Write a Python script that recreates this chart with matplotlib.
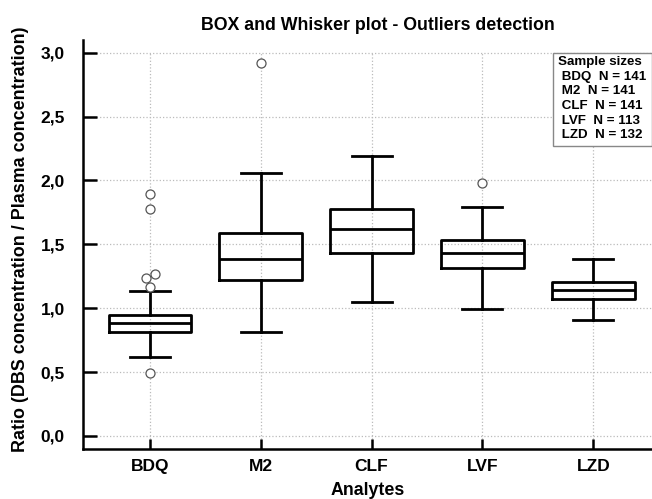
import matplotlib
matplotlib.use("Agg")
import matplotlib.pyplot as plt
from matplotlib.patches import Rectangle

plt.rcParams['font.family'] = ['Liberation Sans', 'DejaVu Sans']

categories = ["BDQ", "M2", "CLF", "LVF", "LZD"]
sample_sizes = [141, 141, 141, 113, 132]
whisker_low = [0.616, 0.816, 1.049, 0.996, 0.908]
q1 = [0.814, 1.221, 1.432, 1.317, 1.070]
median = [0.884, 1.387, 1.620, 1.430, 1.140]
q3 = [0.949, 1.586, 1.779, 1.534, 1.207]
whisker_high = [1.132, 2.060, 2.191, 1.789, 1.383]
outliers = [[1.894, 1.779, 1.234, 1.265, 1.163, 0.490], [2.916], [], [1.982], []]
outlier_jitter = [[0.0, 0.0, -0.04, 0.045, 0.0, 0.0], [0.0], [], [0.0], []]
yticks = [0.0, 0.5, 1.0, 1.5, 2.0, 2.5, 3.0]
ytick_labels = ["0,0", "0,5", "1,0", "1,5", "2,0", "2,5", "3,0"]

W, H = 652, 499
fig = plt.figure(figsize=(W / 100, H / 100), dpi=100)
ax = fig.add_axes([83 / W, 1 - 449 / H, 1 - 83 / W, (449 - 40) / H])

positions = list(range(1, len(categories) + 1))
stats = []
for i in range(len(categories)):
    stats.append(dict(whislo=whisker_low[i], q1=q1[i], med=median[i], q3=q3[i],
                      whishi=whisker_high[i], fliers=[], label=categories[i]))

lw = 2.0
ax.bxp(stats, positions=positions, widths=0.745, capwidths=0.36, showfliers=False,
       boxprops=dict(color='black', linewidth=lw),
       whiskerprops=dict(color='black', linewidth=lw),
       capprops=dict(color='black', linewidth=lw),
       medianprops=dict(color='black', linewidth=lw), zorder=3)

for i, vals in enumerate(outliers):
    if vals:
        xs = [positions[i] + j for j in outlier_jitter[i]]
        ax.plot(xs, vals, linestyle='none', marker='o', markersize=6.5,
                markerfacecolor='white', markeredgecolor='#555555',
                markeredgewidth=0.9, zorder=4)

ax.set_xlim(0.396, 5.53)
ax.set_ylim(-0.102, 3.099)
ax.set_yticks(yticks)
ax.set_yticklabels(ytick_labels)
ax.set_xticks(positions)
ax.set_xticklabels(categories)

ax.grid(axis='y', color='#bbbbbb', linestyle=':', linewidth=0.9, zorder=0)
ax.vlines(positions, -0.102, 3.0, colors='#bbbbbb', linestyles=':', linewidth=0.9, zorder=0)

for s in ['top', 'right']:
    ax.spines[s].set_visible(False)
for s in ['left', 'bottom']:
    ax.spines[s].set_linewidth(1.8)

ax.tick_params(axis='both', direction='in', width=1.8, labelsize=12.5)
ax.tick_params(axis='y', length=10, pad=13)
ax.tick_params(axis='x', length=7, pad=7)
for lab in ax.get_xticklabels() + ax.get_yticklabels():
    lab.set_fontweight('bold')

ax.set_xlabel("Analytes", fontsize=12.8, fontweight='bold', labelpad=6)
ax.set_ylabel("Ratio (DBS concentration / Plasma concentration)", fontsize=12.9,
              fontweight='bold')
ax.yaxis.set_label_coords(-(83 - 29) / (W - 83), (449 - 239) / (449 - 40))
fig.text(378 / W, 1 - 25 / H, "BOX and Whisker plot - Outliers detection", ha='center',
         va='center', fontsize=12.8, fontweight='bold')

fig.patches.append(Rectangle((553 / W, 1 - 146 / H), (W - 553) / W, 93 / H,
                             transform=fig.transFigure, facecolor='white',
                             edgecolor='#888888', linewidth=1.0, zorder=5))
legend_lines = ["Sample sizes"] + [f" {c}  N = {n}" for c, n in zip(categories, sample_sizes)]
fig.text(558 / W, 1 - 56 / H, "\n".join(legend_lines), ha='left', va='top',
         fontsize=9.6, fontweight='bold', linespacing=1.3, zorder=6)

fig.savefig("out.png", dpi=100)
